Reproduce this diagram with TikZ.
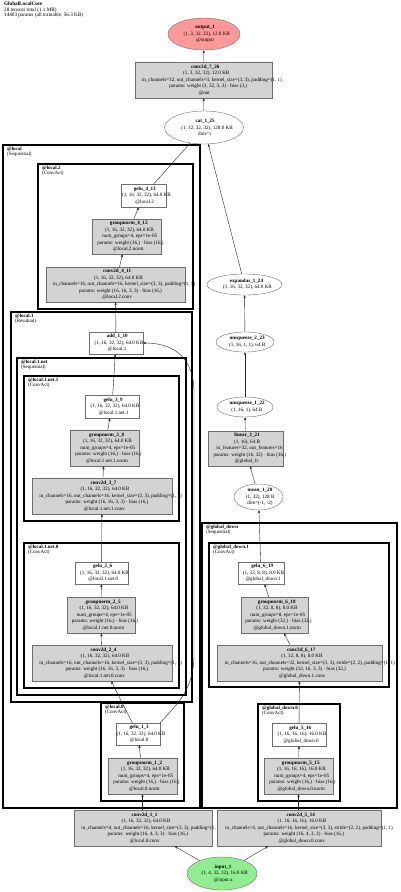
\documentclass[tikz,border=0pt]{standalone}
\usepackage{fontspec}
\setmainfont{Liberation Serif}
\usetikzlibrary{shapes.geometric,arrows.meta}
\definecolor{lgray}{HTML}{D3D3D3}
\definecolor{salmonc}{HTML}{FF9999}
\definecolor{lgreen}{HTML}{90EE90}
\definecolor{bordc}{HTML}{6E6E6E}
\tikzset{
 every node/.style={font=\fontsize{5.1}{6.5}\selectfont},
 rbox/.style={rectangle, draw=bordc, line width=0.4pt, inner sep=0pt},
 gbox/.style={rbox, fill=lgray},
 wbox/.style={rbox, fill=white},
 oval/.style={ellipse, draw=bordc, line width=0.4pt, inner sep=0pt, fill=white},
 txt/.style={align=center, inner sep=0pt},
 clus/.style={draw=black, line width=1.6pt},
 clab/.style={anchor=north west, align=left, inner sep=0pt, font=\fontsize{5.0}{5.2}\selectfont},
 arr/.style={-{Stealth[length=3pt,width=2.4pt]}, line width=0.4pt, draw=black!85},
}
\newcommand\gvl[1]{\sbox0{#1}\hspace*{0.12\wd0}\usebox0}
\newcommand\gvnode[7]{\node[#1, minimum width=#5, minimum height=#6] (#2) at (#3,#4) {}; \node[txt] at (#2.center) {#7};}
\newcommand\gvclus[5]{\draw[clus] (#1,#2) rectangle (#3,#4); \node[clab] at (#1+4,#2+1.5) {#5};}
\begin{document}
\begin{tikzpicture}[x=1pt,y=-1pt]
\useasboundingbox (0,0) rectangle (400,892);
\fill[white] (0,0) rectangle (400,892);
\node[clab, font=\fontsize{5.2}{5.2}\selectfont] (title) at (4,2) {\textbf{GlobalLocalCore}\\28 tensors total (1.1 MB)\\14403 params (all trainable, 56.3 KB)};

% clusters
\gvclus{3}{145}{200}{808}{\textbf{@local}\\(Sequential)}
\gvclus{38}{164}{193}{309}{\textbf{@local.2}\\(ConvAct)}
\gvclus{11}{312}{192}{702}{\textbf{@local.1}\\(Residual)}
\gvclus{17}{358}{186}{695}{\textbf{@local.1.net}\\(Sequential)}
\gvclus{24}{376}{179}{521}{\textbf{@local.1.net.1}\\(ConvAct)}
\gvclus{24}{543}{179}{688}{\textbf{@local.1.net.0}\\(ConvAct)}
\gvclus{101}{703}{184}{801}{\textbf{@local.0}\\(ConvAct)}
\gvclus{202}{523}{397}{808}{\textbf{@global\_down}\\(Sequential)}
\gvclus{209}{543}{389}{687}{\textbf{@global\_down.1}\\(ConvAct)}
\gvclus{258}{704}{340}{801}{\textbf{@global\_down.0}\\(ConvAct)}

% nodes
\gvnode{oval,fill=salmonc}{output_1}{204}{34}{72}{32}{\gvl{\textbf{output\_1}}\\\gvl{(1, 3, 32, 32), 12.0 KB}\\\gvl{@output}}
\gvnode{gbox}{conv2d_7_26}{203.5}{80}{137}{36}{\gvl{\textbf{conv2d\_7\_26}}\\\gvl{(1, 3, 32, 32), 12.0 KB}\\\gvl{in\_channels=32, out\_channels=3, kernel\_size=(3, 3), padding=(1, 1)}\\\gvl{params: weight (3, 32, 3, 3) · bias (3,)}\\\gvl{@out}}
\gvnode{oval}{cat_1_25}{204}{127.5}{79}{33}{\gvl{\textbf{cat\_1\_25}}\\\gvl{(1, 32, 32, 32), 128.0 KB}\\\gvl{dim=1}}
\gvnode{wbox}{gelu_4_13}{143.5}{195.5}{45}{23}{\gvl{\textbf{gelu\_4\_13}}\\\gvl{(1, 16, 32, 32), 64.0 KB}\\\gvl{@local.2}}
\gvnode{gbox}{groupnorm_4_12}{126.5}{236.5}{69}{35}{\gvl{\textbf{groupnorm\_4\_12}}\\\gvl{(1, 16, 32, 32), 64.0 KB}\\\gvl{num\_groups=4, eps=1e-05}\\\gvl{params: weight (16,) · bias (16,)}\\\gvl{@local.2.norm}}
\gvnode{gbox}{conv2d_4_11}{115.5}{284.5}{139}{35}{\gvl{\textbf{conv2d\_4\_11}}\\\gvl{(1, 16, 32, 32), 64.0 KB}\\\gvl{in\_channels=16, out\_channels=16, kernel\_size=(3, 3), padding=(1, 1)}\\\gvl{params: weight (16, 16, 3, 3) · bias (16,)}\\\gvl{@local.2.conv}}
\gvnode{wbox}{add_1_10}{116}{343}{54}{22}{\gvl{\textbf{add\_1\_10}}\\\gvl{(1, 16, 32, 32), 64.0 KB}\\\gvl{@local.1}}
\gvnode{wbox}{gelu_3_9}{112}{406.5}{54}{23}{\gvl{\textbf{gelu\_3\_9}}\\\gvl{(1, 16, 32, 32), 64.0 KB}\\\gvl{@local.1.net.1}}
\gvnode{gbox}{groupnorm_3_8}{104.5}{448}{69}{36}{\gvl{\textbf{groupnorm\_3\_8}}\\\gvl{(1, 16, 32, 32), 64.0 KB}\\\gvl{num\_groups=4, eps=1e-05}\\\gvl{params: weight (16,) · bias (16,)}\\\gvl{@local.1.net.1.norm}}
\gvnode{gbox}{conv2d_3_7}{102}{496}{140}{36}{\gvl{\textbf{conv2d\_3\_7}}\\\gvl{(1, 16, 32, 32), 64.0 KB}\\\gvl{in\_channels=16, out\_channels=16, kernel\_size=(3, 3), padding=(1, 1)}\\\gvl{params: weight (16, 16, 3, 3) · bias (16,)}\\\gvl{@local.1.net.1.conv}}
\gvnode{wbox}{gelu_2_6}{101.5}{573}{53}{22}{\gvl{\textbf{gelu\_2\_6}}\\\gvl{(1, 16, 32, 32), 64.0 KB}\\\gvl{@local.1.net.0}}
\gvnode{gbox}{groupnorm_2_5}{101}{615}{68}{36}{\gvl{\textbf{groupnorm\_2\_5}}\\\gvl{(1, 16, 32, 32), 64.0 KB}\\\gvl{num\_groups=4, eps=1e-05}\\\gvl{params: weight (16,) · bias (16,)}\\\gvl{@local.1.net.0.norm}}
\gvnode{gbox}{conv2d_2_4}{102}{663}{140}{36}{\gvl{\textbf{conv2d\_2\_4}}\\\gvl{(1, 16, 32, 32), 64.0 KB}\\\gvl{in\_channels=16, out\_channels=16, kernel\_size=(3, 3), padding=(1, 1)}\\\gvl{params: weight (16, 16, 3, 3) · bias (16,)}\\\gvl{@local.1.net.0.conv}}
\gvnode{wbox}{gelu_1_3}{138}{734}{44}{22}{\gvl{\textbf{gelu\_1\_3}}\\\gvl{(1, 16, 32, 32), 64.0 KB}\\\gvl{@local.0}}
\gvnode{gbox}{groupnorm_1_2}{142.5}{776}{69}{36}{\gvl{\textbf{groupnorm\_1\_2}}\\\gvl{(1, 16, 32, 32), 64.0 KB}\\\gvl{num\_groups=4, eps=1e-05}\\\gvl{params: weight (16,) · bias (16,)}\\\gvl{@local.0.norm}}
\gvnode{gbox}{conv2d_1_1}{143}{828}{138}{36}{\gvl{\textbf{conv2d\_1\_1}}\\\gvl{(1, 16, 32, 32), 64.0 KB}\\\gvl{in\_channels=4, out\_channels=16, kernel\_size=(3, 3), padding=(1, 1)}\\\gvl{params: weight (16, 4, 3, 3) · bias (16,)}\\\gvl{@local.0.conv}}
\gvnode{gbox}{conv2d_5_14}{299}{828}{164}{36}{\gvl{\textbf{conv2d\_5\_14}}\\\gvl{(1, 16, 16, 16), 16.0 KB}\\\gvl{in\_channels=4, out\_channels=16, kernel\_size=(3, 3), stride=(2, 2), padding=(1, 1)}\\\gvl{params: weight (16, 4, 3, 3) · bias (16,)}\\\gvl{@global\_down.0.conv}}
\gvnode{oval,fill=lgreen}{input_1}{222}{873.5}{70}{33}{\gvl{\textbf{input\_1}}\\\gvl{(1, 4, 32, 32), 16.0 KB}\\\gvl{@input.x}}
\gvnode{wbox}{gelu_5_16}{299}{734.5}{54}{23}{\gvl{\textbf{gelu\_5\_16}}\\\gvl{(1, 16, 16, 16), 16.0 KB}\\\gvl{@global\_down.0}}
\gvnode{gbox}{groupnorm_5_15}{298.5}{776}{69}{36}{\gvl{\textbf{groupnorm\_5\_15}}\\\gvl{(1, 16, 16, 16), 16.0 KB}\\\gvl{num\_groups=4, eps=1e-05}\\\gvl{params: weight (16,) · bias (16,)}\\\gvl{@global\_down.0.norm}}
\gvnode{gbox}{conv2d_6_17}{299.5}{663}{165}{36}{\gvl{\textbf{conv2d\_6\_17}}\\\gvl{(1, 32, 8, 8), 8.0 KB}\\\gvl{in\_channels=16, out\_channels=32, kernel\_size=(3, 3), stride=(2, 2), padding=(1, 1)}\\\gvl{params: weight (32, 16, 3, 3) · bias (32,)}\\\gvl{@global\_down.1.conv}}
\gvnode{gbox}{groupnorm_6_18}{274.5}{615}{67}{36}{\gvl{\textbf{groupnorm\_6\_18}}\\\gvl{(1, 32, 8, 8), 8.0 KB}\\\gvl{num\_groups=8, eps=1e-05}\\\gvl{params: weight (32,) · bias (32,)}\\\gvl{@global\_down.1.norm}}
\gvnode{wbox}{gelu_6_19}{261}{573}{46}{22}{\gvl{\textbf{gelu\_6\_19}}\\\gvl{(1, 32, 8, 8), 8.0 KB}\\\gvl{@global\_down.1}}
\gvnode{oval}{mean_1_20}{258.5}{497}{49}{26}{\gvl{\textbf{mean\_1\_20}}\\\gvl{(1, 32), 128 B}\\\gvl{dim=(-1, -2)}}
\gvnode{gbox}{linear_1_21}{245.5}{448.5}{75}{35}{\gvl{\textbf{linear\_1\_21}}\\\gvl{(1, 16), 64 B}\\\gvl{in\_features=32, out\_features=16}\\\gvl{params: weight (16, 32) · bias (16,)}\\\gvl{@global\_fc}}
\gvnode{oval}{unsqueeze_1_22}{245}{407}{56}{20}{\gvl{\textbf{unsqueeze\_1\_22}}\\\gvl{(1, 16, 1), 64 B}}
\gvnode{oval}{unsqueeze_2_23}{245}{342}{58}{20}{\gvl{\textbf{unsqueeze\_2\_23}}\\\gvl{(1, 16, 1, 1), 64 B}}
\gvnode{oval}{expandas_1_24}{244.5}{284.5}{75}{21}{\gvl{\textbf{expandas\_1\_24}}\\\gvl{(1, 16, 32, 32), 64.0 KB}}

% edges
\draw[arr] (input_1) -- (conv2d_1_1);
\draw[arr] (input_1) -- (conv2d_5_14);
\draw[arr] (conv2d_1_1.north -| groupnorm_1_2) -- (groupnorm_1_2);
\draw[arr] (groupnorm_1_2) -- (gelu_1_3);
\draw[arr] (gelu_1_3) -- (conv2d_2_4);
\draw[arr] (gelu_1_3.north east) .. controls (176,705) and (194,690) .. (194,655) -- (194,392) .. controls (194,360) and (176,343) .. (add_1_10.east);
\draw[arr] (conv2d_2_4) -- (groupnorm_2_5);
\draw[arr] (groupnorm_2_5) -- (gelu_2_6);
\draw[arr] (gelu_2_6) -- (conv2d_3_7);
\draw[arr] (conv2d_3_7) -- (groupnorm_3_8);
\draw[arr] (groupnorm_3_8) -- (gelu_3_9);
\draw[arr] (gelu_3_9) -- (add_1_10);
\draw[arr] (add_1_10) -- (conv2d_4_11);
\draw[arr] (conv2d_4_11) -- (groupnorm_4_12);
\draw[arr] (groupnorm_4_12) -- (gelu_4_13);
\draw[arr] (gelu_4_13) -- (cat_1_25);
\draw[arr] (expandas_1_24) -- (cat_1_25);
\draw[arr] (cat_1_25) -- (conv2d_7_26);
\draw[arr] (conv2d_7_26) -- (output_1);
\draw[arr] (conv2d_5_14.north -| groupnorm_5_15) -- (groupnorm_5_15);
\draw[arr] (groupnorm_5_15) -- (gelu_5_16);
\draw[arr] (gelu_5_16) -- (conv2d_6_17);
\draw[arr] (conv2d_6_17) -- (groupnorm_6_18);
\draw[arr] (groupnorm_6_18) -- (gelu_6_19);
\draw[arr] (gelu_6_19) -- (mean_1_20);
\draw[arr] (mean_1_20) -- (linear_1_21);
\draw[arr] (linear_1_21) -- (unsqueeze_1_22);
\draw[arr] (unsqueeze_1_22) -- (unsqueeze_2_23);
\draw[arr] (unsqueeze_2_23) -- (expandas_1_24);
\end{tikzpicture}
\end{document}
